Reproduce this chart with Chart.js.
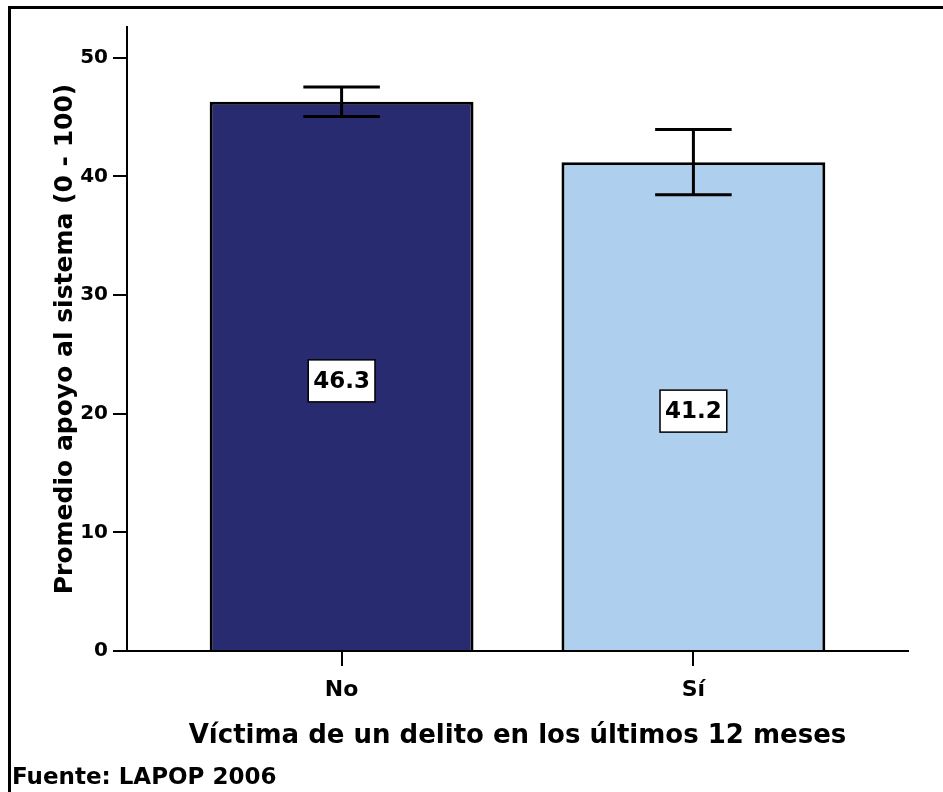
<!DOCTYPE html>
<html>
<head>
<meta charset="utf-8">
<script src="https://cdn.jsdelivr.net/npm/chart.js@4.4.1/dist/chart.umd.min.js"></script>
<style>
  html, body { margin: 0; padding: 0; background: #fff; }
  #wrap { position: relative; width: 943px; height: 792px; overflow: hidden; }
  #myChart { position: absolute; left: 0; top: 0; }
  #marco { position: absolute; left: 8px; top: 6px; width: 960px; height: 820px;
           border-top: 3px solid #000; border-left: 3px solid #000; pointer-events: none; }
  #fuente { position: absolute; left: 12px; top: 765px; color: #000;
            font: bold 23px/23px "DejaVu Sans", sans-serif; }
</style>
</head>
<body>
<div id="wrap">
  <canvas id="myChart" width="943" height="792"></canvas>
  <div id="marco"></div>
  <div id="fuente">Fuente: LAPOP 2006</div>
</div>
<script>
// datos
const categorias = ['No', 'Sí'];
const promedios = [46.3, 41.2];
const limiteInferior = [45.05, 38.45];
const limiteSuperior = [47.55, 43.95];
const colores = ['#292B70', '#AED0EE'];
const ticksY = [0, 10, 20, 30, 40, 50];

const fuente = 'DejaVu Sans';

// intervalos de confianza
const barrasError = {
  id: 'barrasError',
  afterDatasetsDraw(chart) {
    const ctx = chart.ctx;
    const y = chart.scales.y;
    const meta = chart.getDatasetMeta(0);
    ctx.save();
    ctx.strokeStyle = '#000';
    ctx.lineWidth = 3;
    meta.data.forEach((bar, i) => {
      const yHi = y.getPixelForValue(limiteSuperior[i]);
      const yLo = y.getPixelForValue(limiteInferior[i]);
      const half = bar.width * 0.145;
      ctx.beginPath();
      ctx.moveTo(bar.x, yHi); ctx.lineTo(bar.x, yLo);
      ctx.moveTo(bar.x - half, yHi); ctx.lineTo(bar.x + half, yHi);
      ctx.moveTo(bar.x - half, yLo); ctx.lineTo(bar.x + half, yLo);
      ctx.stroke();
    });
    ctx.restore();
  }
};

// valor dentro de una caja blanca
const etiquetas = {
  id: 'etiquetas',
  afterDatasetsDraw(chart) {
    const ctx = chart.ctx;
    const meta = chart.getDatasetMeta(0);
    ctx.save();
    ctx.font = 'bold 23px "' + fuente + '"';
    ctx.textAlign = 'center';
    ctx.textBaseline = 'middle';
    meta.data.forEach((bar, i) => {
      const txt = promedios[i].toFixed(1);
      const cy = (bar.y + bar.base) / 2 + 5;
      const w = ctx.measureText(txt).width + 10;
      const h = 42;
      ctx.fillStyle = '#fff';
      ctx.fillRect(bar.x - w / 2, cy - h / 2, w, h);
      ctx.strokeStyle = '#000';
      ctx.lineWidth = 1.5;
      ctx.strokeRect(bar.x - w / 2, cy - h / 2, w, h);
      ctx.fillStyle = '#000';
      ctx.fillText(txt, bar.x, cy + 1);
    });
    ctx.restore();
  }
};

const ctx = document.getElementById('myChart');

new Chart(ctx, {
  type: 'bar',
  data: {
    datasets: [{
      data: promedios.map((v, i) => ({ x: i, y: v })),
      backgroundColor: colores,
      borderColor: '#000',
      borderWidth: 3,
      categoryPercentage: 1,
      barPercentage: 0.75
    }]
  },
  options: {
    responsive: false,
    animation: false,
    layout: { padding: { left: 0, top: 27, right: 35, bottom: 0 } },
    plugins: {
      legend: { display: false },
      tooltip: { enabled: false }
    },
    scales: {
      x: {
        type: 'linear',
        min: -0.61,
        max: 1.61,
        offset: false,
        afterBuildTicks: s => { s.ticks = categorias.map((c, i) => ({ value: i })); },
        afterFit: s => { s.height = 141; s.paddingLeft = 0; s.paddingRight = 0; },
        ticks: {
          callback: v => categorias[v],
          color: '#000',
          font: { family: fuente, weight: 'bold', size: 22 },
          padding: 11,
          autoSkip: false,
          maxRotation: 0
        },
        grid: { offset: false, drawOnChartArea: false, tickLength: 15, color: '#000', lineWidth: 2 },
        border: { color: '#000', width: 2 },
        title: {
          display: true,
          text: 'Víctima de un delito en los últimos 12 meses',
          color: '#000',
          font: { family: fuente, weight: 'bold', size: 26 },
          padding: { top: 0, bottom: 40 }
        }
      },
      y: {
        min: 0,
        max: 52.6,
        afterBuildTicks: s => { s.ticks = ticksY.map(v => ({ value: v })); },
        afterFit: s => { s.width = 127; s.paddingTop = 0; s.paddingBottom = 0; },
        ticks: {
          color: '#000',
          font: { family: fuente, weight: 'bold', size: 20 },
          padding: 5
        },
        grid: { drawOnChartArea: false, tickLength: 14, color: '#000', lineWidth: 2 },
        border: { color: '#000', width: 2 },
        title: {
          display: true,
          text: 'Promedio apoyo al sistema (0 - 100)',
          color: '#000',
          font: { family: fuente, weight: 'bold', size: 25 },
          padding: { top: 50, bottom: 0 }
        }
      }
    }
  },
  plugins: [barrasError, etiquetas]
});
</script>
</body>
</html>
